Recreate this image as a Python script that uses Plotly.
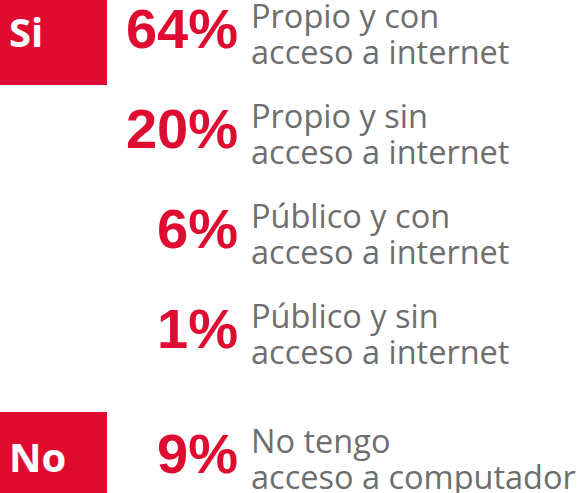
import plotly.graph_objects as go

# ---- data ----
groups = ["Si", "Si", "Si", "Si", "No"]
values = [64, 20, 6, 1, 9]
label_line1 = ["Propio y con", "Propio y sin", "Público y con", "Público y sin", "No tengo"]
label_line2 = ["acceso a internet", "acceso a internet", "acceso a internet",
               "acceso a internet", "acceso a computador"]
group_names = ["Si", "No"]

# ---- layout helpers (pixel-like axes) ----
W, H = 584, 493
RED = "#E00B30"
GRAY = "#6E6E6E"
ROW0, ROWSTEP, GROUPGAP = 30, 100, 25

ypos = []
gap = 0
prev = None
for i, g in enumerate(groups):
    if prev is not None and g != prev:
        gap += GROUPGAP
    ypos.append(ROW0 + i * ROWSTEP + gap)
    prev = g

PCT_X = 238
LAB_X = 251

fig = go.Figure()

# percentages
fig.add_trace(go.Scatter(
    x=[PCT_X] * len(values), y=[y + 4 for y in ypos], mode="text",
    text=[f"{v}%" for v in values], textposition="middle left",
    textfont=dict(family="Liberation Sans, Arial, sans-serif",
                  size=56, color=RED, weight="bold"),
    hoverinfo="skip", showlegend=False))

# label line 1
fig.add_trace(go.Scatter(
    x=[LAB_X] * len(values), y=[y - 10 for y in ypos], mode="text",
    text=label_line1, textposition="middle right",
    textfont=dict(family="Open Sans, sans-serif", size=32.5, color=GRAY),
    hoverinfo="skip", showlegend=False))

# label line 2
fig.add_trace(go.Scatter(
    x=[LAB_X] * len(values), y=[y + 26 for y in ypos], mode="text",
    text=label_line2, textposition="middle right",
    textfont=dict(family="Open Sans, sans-serif", size=32.5, color=GRAY),
    hoverinfo="skip", showlegend=False))

# group boxes and names
shapes = []
gx, gy, gt = [], [], []
for name in group_names:
    first = ypos[groups.index(name)]
    shapes.append(dict(type="rect", xref="x", yref="y", x0=0, x1=107,
                       y0=first - 43, y1=first + 55, fillcolor=RED,
                       line=dict(width=0), layer="below"))
    gx.append(9)
    gy.append(first + 7)
    gt.append(name)

fig.add_trace(go.Scatter(
    x=gx, y=gy, mode="text", text=gt, textposition="middle right",
    textfont=dict(family="Open Sans, sans-serif", size=40, color="white", weight="bold"),
    hoverinfo="skip", showlegend=False))

fig.update_layout(
    width=W, height=H, margin=dict(l=0, r=0, t=0, b=0),
    paper_bgcolor="white", plot_bgcolor="white",
    shapes=shapes,
    xaxis=dict(range=[0, W], visible=False, fixedrange=True),
    yaxis=dict(range=[H, 0], visible=False, fixedrange=True),
)

fig.write_html("out.html", config={"displayModeBar": False},
               post_script="document.body.style.margin='0';document.body.style.overflow='hidden';")
